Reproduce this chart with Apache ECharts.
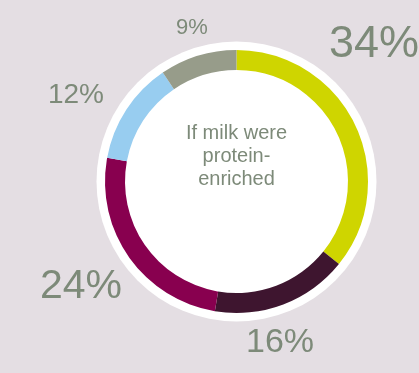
<!DOCTYPE html>
<html>
<head>
<meta charset="utf-8">
<script src="https://cdn.jsdelivr.net/npm/echarts@6/dist/echarts.min.js"></script>
<style>
  html, body { margin: 0; padding: 0; background: #e4dee3; }
  #chart { width: 419px; height: 373px; }
</style>
</head>
<body>
<div id="chart"></div>
<script>
// Share of each group (percent), drawn clockwise from 12 o'clock
const categories = ['Group A', 'Group B', 'Group C', 'Group D', 'Group E'];
const shares = [34, 16, 24, 12, 9];
const centerTitle = 'If milk were\nprotein-\nenriched';

// Styling
const sliceColors = ['#cfd500', '#3e152f', '#88004f', '#98cdf0', '#979c8a'];
const labelSizes = [45, 34, 41, 28, 22];
const labelSpots = [[374, 45], [280, 343], [81, 287], [76, 95], [192, 28]];
const textColor = '#7d8a79';
const font = '"Liberation Sans", Arial, sans-serif';

const CX = 236.5, CY = 181.5;

const chart = echarts.init(document.getElementById('chart'), null, { renderer: 'canvas' });

chart.setOption({
  backgroundColor: '#e4dee3',
  animation: false,
  series: [
    {
      // white disc behind the ring
      type: 'pie',
      silent: true,
      center: [CX, CY],
      radius: [0, 140],
      label: { show: false },
      labelLine: { show: false },
      itemStyle: { color: '#ffffff' },
      data: [{ value: 1, name: 'disc' }],
      z: 1
    },
    {
      type: 'pie',
      center: [CX, CY],
      radius: [111.5, 131.5],
      startAngle: 90,
      clockwise: true,
      avoidLabelOverlap: false,
      z: 2,
      label: {
        show: true,
        position: 'outside',
        formatter: p => p.value + '%',
        color: textColor,
        fontFamily: font
      },
      labelLine: { show: false },
      labelLayout: p => ({
        x: labelSpots[p.dataIndex][0],
        y: labelSpots[p.dataIndex][1],
        align: 'center',
        verticalAlign: 'middle'
      }),
      data: categories.map((name, i) => ({
        name,
        value: shares[i],
        itemStyle: { color: sliceColors[i] },
        label: { fontSize: labelSizes[i] }
      }))
    }
  ],
  graphic: [
    {
      type: 'text',
      x: CX,
      y: CY - 25,
      z: 10,
      style: {
        text: centerTitle,
        fill: textColor,
        font: '20px ' + font,
        lineHeight: 23,
        align: 'center',
        verticalAlign: 'middle'
      }
    }
  ]
});
</script>
</body>
</html>
